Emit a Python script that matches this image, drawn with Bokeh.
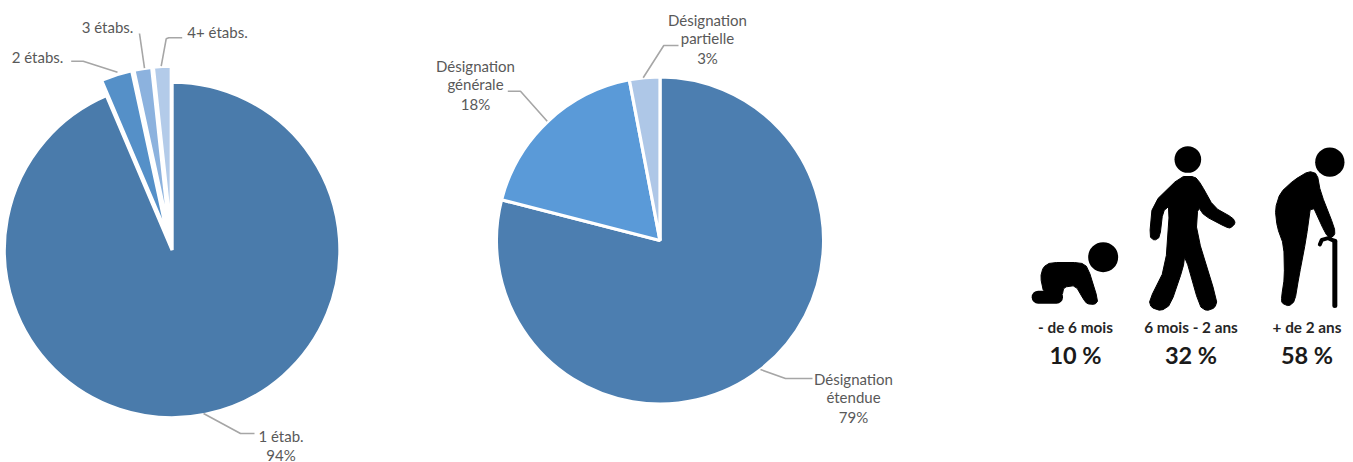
import math
from bokeh.plotting import figure
from bokeh.core.properties import value
from bokeh.embed import file_html
from bokeh.resources import INLINE

# ---------- data ----------
etab_names = ["1 étab.", "2 étabs.", "3 étabs.", "4+ étabs."]
etab_values = [93.6, 3.0, 1.7, 1.7]
etab_colors = ["#4a7bab", "#5590c8", "#8cb2de", "#b3cbe9"]
desig_names = ["Désignation étendue", "Désignation générale", "Désignation partielle"]
desig_values = [79, 18, 3]
desig_colors = ["#4c7eb0", "#5a9ad8", "#aec7e7"]
age_labels = ["- de 6 mois", "6 mois - 2 ans", "+ de 2 ans"]
age_values = ["10 %", "32 %", "58 %"]

W, H = 1353, 462
TEXT = "#595959"
LEAD = "#a6a6a6"
Y = lambda py: 462 - py  # picture-style y to plot y

p = figure(width=W, height=H, x_range=(0, W), y_range=(0, H),
           output_backend="svg", toolbar_location=None, min_border=0,
           outline_line_color=None, background_fill_color="white")
p.axis.visible = False
p.grid.visible = False


def pie(cx, cy, r, values, colors, explode=()):
    total = sum(values)
    a = 0.0
    for i, v in enumerate(values):
        span = 2 * math.pi * v / total
        mid = a + span / 2
        off = explode[i] if i < len(explode) else 0
        x = cx + off * math.sin(mid)
        y = Y(cy) + off * math.cos(mid)
        start = math.pi / 2 - a - span
        end = math.pi / 2 - a
        p.wedge(x=[x], y=[y], radius=r, start_angle=start, end_angle=end,
                fill_color=colors[i], line_color="white", line_width=3.2)
        a += span


pie(171.6, 249.5, 167.8, etab_values, etab_colors, explode=[0, 16, 16, 16])
pie(659.5, 240, 163.6, desig_values, desig_colors)

# leader lines
leaders = [
    [(70.7, 60.7), (82.7, 60.7), (117, 71.7)],
    [(139, 33), (144, 67.7)],
    [(181.7, 37.3), (168.3, 37.3), (165.7, 38.3), (160.7, 65.7)],
    [(203, 413), (240, 433), (254, 433)],
    [(678, 45), (663.3, 45), (642.7, 77.3)],
    [(507.3, 90.7), (520, 90.7), (546.7, 120.7)],
    [(760, 369), (785, 378), (812, 378)],
]
for l in leaders:
    p.line([q[0] for q in l], [Y(q[1]) for q in l], line_color=LEAD, line_width=1.6)

# slice labels
slice_text = [
    (37, 56.5, "2 étabs."), (107, 26, "3 étabs."), (217, 31, "4+ étabs."),
    (280.5, 435, "1 étab."), (280.5, 454, "94%"),
    (707, 19, "Désignation"), (707, 37.5, "partielle"), (707, 57, "3%"),
    (475, 65, "Désignation"), (475, 83.5, "générale"), (475, 103, "18%"),
    (853, 378, "Désignation"), (853, 396, "étendue"), (853, 416, "79%"),
]
p.text([t[0] for t in slice_text], [Y(t[1]) for t in slice_text], text=[t[2] for t in slice_text],
       text_font=value("Lato"), text_font_size="15px", text_color=TEXT,
       text_align="center", text_baseline="middle", text_line_height=1.0)


# ---------- pictograms (outline drawn in the crop's units: 3 per px, origin 1000,130) ----------
def ix(v): return 1000 + v / 3
def iy(v): return Y(130 + v / 3)
BLACK = "#000000"


def smooth(pts, n=1):
    for _ in range(n):
        out = []
        for i in range(len(pts)):
            a, b = pts[i], pts[(i + 1) % len(pts)]
            out.append((0.8 * a[0] + 0.2 * b[0], 0.8 * a[1] + 0.2 * b[1]))
            out.append((0.2 * a[0] + 0.8 * b[0], 0.2 * a[1] + 0.8 * b[1]))
        pts = out
    return pts


def shape(pts):
    pts = smooth(pts)
    p.patch([ix(a) for a, b in pts], [iy(b) for a, b in pts], fill_color=BLACK,
            line_color=BLACK, line_width=1, line_join="round")


def stroke(pts, w):
    p.line([ix(a) for a, b in pts], [iy(b) for a, b in pts], line_color=BLACK,
           line_width=w, line_cap="round", line_join="round")


def head(a, b, r):
    p.scatter([ix(a)], [iy(b)], size=2 * r / 3, marker="circle", fill_color=BLACK, line_color=None)


# baby
head(308, 380, 45)
stroke([(113, 500), (168, 500)], 13)
shape([(150, 396), (240, 396), (262, 410), (293, 510), (283, 522), (260, 520), (250, 508),
       (225, 465), (190, 470), (185, 495), (130, 488), (120, 440), (128, 410)])

# walking adult
head(562, 87, 40)
shape([(540, 138), (583, 138), (601, 160), (640, 230), (697, 262), (705, 278), (690, 293),
       (677, 290), (612, 256), (592, 228), (587, 305), (650, 510), (643, 532), (618, 541),
       (597, 527), (553, 372), (548, 412), (510, 523), (482, 541), (452, 531), (446, 510),
       (495, 412), (508, 225), (487, 243), (478, 320), (462, 330), (447, 318),
       (456, 220)])

# elderly adult
head(988, 95, 44)
shape([(925, 122), (950, 130), (960, 185), (1002, 292), (1003, 313), (989, 323), (975, 310),
       (932, 216), (917, 325), (895, 440), (883, 512), (865, 527), (844, 518), (843, 500),
       (852, 440), (850, 345), (830, 290), (824, 235), (839, 187), (880, 149)])
stroke([(1003, 332), (1003, 525)], 5)
stroke([(958, 342), (964, 328), (983, 323), (1003, 332)], 4)

# pictogram captions
cap_x = [1075, 1190.5, 1306.5]
p.text(cap_x, [Y(326.5)] * 3, text=age_labels, text_font=value("Lato"), text_font_size="15.3px",
       text_font_style="bold", text_color="#262626", text_align="center", text_baseline="middle")
p.text(cap_x, [Y(354)] * 3, text=age_values, text_font=value("Lato"), text_font_size="23.5px",
       text_font_style="bold", text_color="#1a1a1a", text_align="center", text_baseline="middle")

open("out.html", "w").write(file_html(p, INLINE))
